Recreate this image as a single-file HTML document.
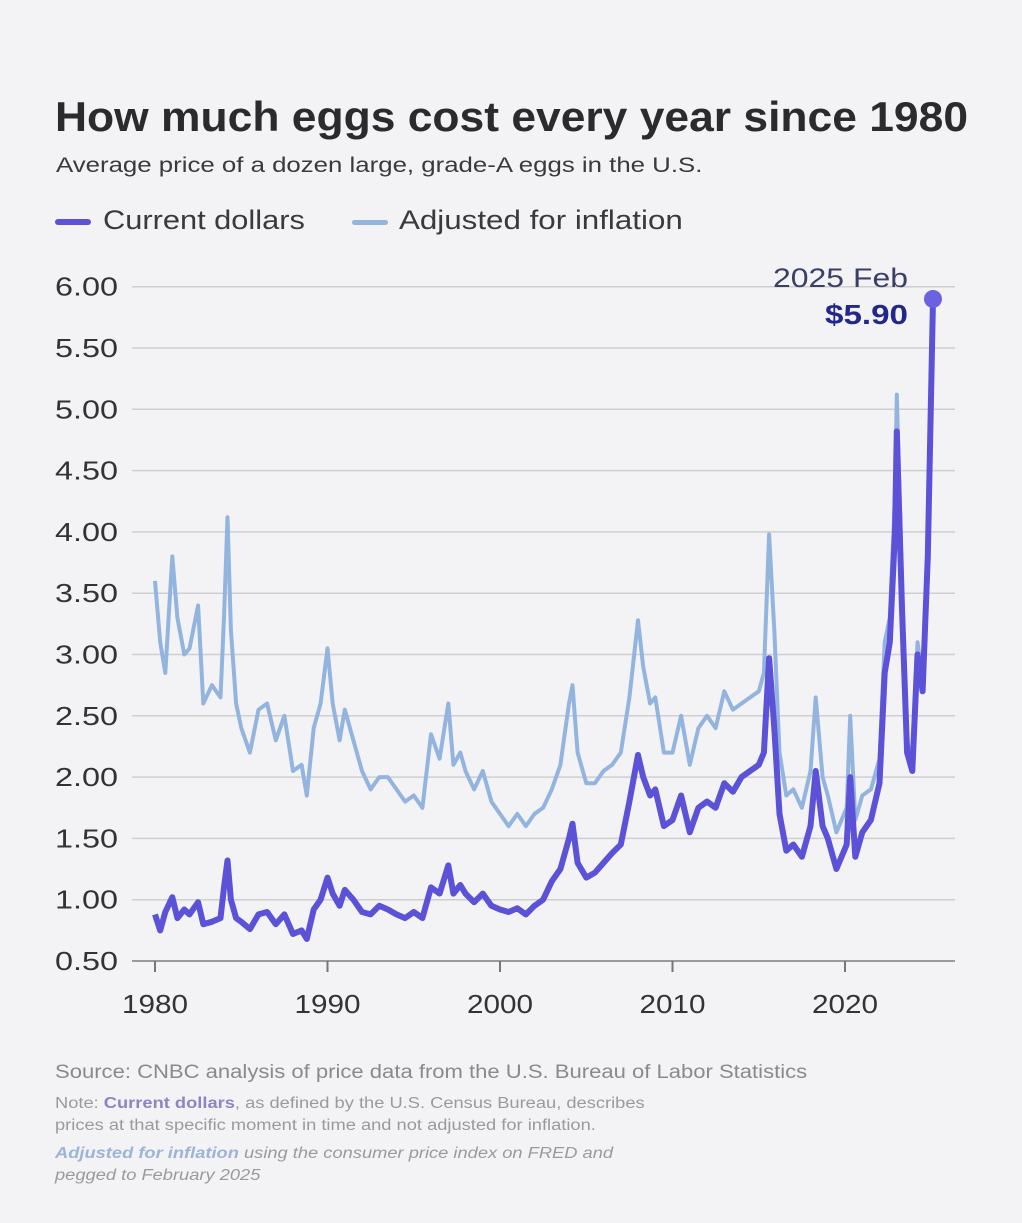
<!DOCTYPE html>
<html><head><meta charset="utf-8"><style>
body{margin:0;background:#f3f3f5;font-family:"Liberation Sans",sans-serif;}
#wrap{position:relative;width:1022px;height:1223px;overflow:hidden;background:#f3f3f5;}
.t{position:absolute;white-space:nowrap;color:#333;transform-origin:0 0;}
</style></head><body>
<div id="wrap">
<div class="t" style="left:55px;top:93px;font-size:42px;font-weight:bold;color:#2b2b2e;transform:scaleX(1.057)">How much eggs cost every year since 1980</div>
<div class="t" style="left:56px;top:153px;font-size:21.5px;color:#3a3a3d;transform:scaleX(1.2)">Average price of a dozen large, grade-A eggs in the U.S.</div>
<div style="position:absolute;left:55px;top:219px;width:36px;height:6px;border-radius:3px;background:#5b52d8"></div>
<div class="t" style="left:103px;top:205px;font-size:27px;color:#3a3a3d;transform:scaleX(1.14)">Current dollars</div>
<div style="position:absolute;left:352px;top:220px;width:36px;height:5px;border-radius:3px;background:#93b4df"></div>
<div class="t" style="left:399px;top:205px;font-size:27px;color:#3a3a3d;transform:scaleX(1.16)">Adjusted for inflation</div>
<svg id="chart" width="1022" height="1223" style="position:absolute;left:0;top:0"></svg>
<div class="t" style="left:55px;top:1062px;font-size:19px;color:#8a8a8e;transform:scaleX(1.16)">Source: CNBC analysis of price data from the U.S. Bureau of Labor Statistics</div>
<div class="t" style="left:55px;top:1093px;font-size:15.5px;color:#9a9a9e;line-height:22px;transform:scaleX(1.18)">Note: <span style="color:#8b85c8;font-weight:bold">Current dollars</span>, as defined by the U.S. Census Bureau, describes<br>prices at that specific moment in time and not adjusted for inflation.</div>
<div class="t" style="left:55px;top:1143px;font-size:15.5px;color:#9a9a9e;font-style:italic;line-height:22px;transform:scaleX(1.18)"><span style="color:#9db4d8;font-weight:bold">Adjusted for inflation</span> using the consumer price index on FRED and<br>pegged to February 2025</div>
</div>
<script>
const yTicks=[0.5,1.0,1.5,2.0,2.5,3.0,3.5,4.0,4.5,5.0,5.5,6.0];
const xTicks=[1980,1990,2000,2010,2020];
const curX=[1980,1980.3,1980.6,1981,1981.3,1981.7,1982,1982.5,1982.8,1983.3,1983.8,1984,1984.2,1984.4,1984.7,1985,1985.5,1986,1986.5,1987,1987.5,1988,1988.5,1988.8,1989.2,1989.6,1990,1990.3,1990.7,1991,1991.5,1992,1992.5,1993,1993.5,1994,1994.5,1995,1995.5,1996,1996.5,1997,1997.3,1997.7,1998,1998.5,1999,1999.5,2000,2000.5,2001,2001.5,2002,2002.5,2003,2003.5,2004,2004.2,2004.5,2005,2005.5,2006,2006.5,2007,2007.5,2008,2008.3,2008.7,2009,2009.5,2010,2010.5,2011,2011.5,2012,2012.5,2013,2013.5,2014,2014.5,2015,2015.3,2015.6,2015.9,2016.2,2016.6,2017,2017.5,2018,2018.3,2018.7,2019,2019.5,2020.1,2020.3,2020.6,2021,2021.5,2022,2022.3,2022.6,2022.9,2023,2023.3,2023.6,2023.9,2024.2,2024.5,2024.8,2025.1];
const curV=[0.88,0.75,0.9,1.02,0.85,0.92,0.88,0.98,0.8,0.82,0.85,1.1,1.32,1.0,0.85,0.82,0.76,0.88,0.9,0.8,0.88,0.72,0.75,0.68,0.92,1.0,1.18,1.05,0.95,1.08,1.0,0.9,0.88,0.95,0.92,0.88,0.85,0.9,0.85,1.1,1.05,1.28,1.05,1.12,1.05,0.98,1.05,0.95,0.92,0.9,0.93,0.88,0.95,1.0,1.15,1.25,1.5,1.62,1.3,1.18,1.22,1.3,1.38,1.45,1.8,2.18,2.0,1.85,1.9,1.6,1.65,1.85,1.55,1.75,1.8,1.75,1.95,1.88,2.0,2.05,2.1,2.2,2.97,2.4,1.7,1.4,1.45,1.35,1.6,2.05,1.6,1.5,1.25,1.45,2.0,1.35,1.55,1.65,1.95,2.85,3.1,4.0,4.82,3.4,2.2,2.05,3.0,2.7,3.8,5.9];
const adjV=[3.6,3.1,2.85,3.8,3.3,3.0,3.05,3.4,2.6,2.75,2.65,3.3,4.12,3.2,2.6,2.4,2.2,2.55,2.6,2.3,2.5,2.05,2.1,1.85,2.4,2.6,3.05,2.6,2.3,2.55,2.3,2.05,1.9,2.0,2.0,1.9,1.8,1.85,1.75,2.35,2.15,2.6,2.1,2.2,2.05,1.9,2.05,1.8,1.7,1.6,1.7,1.6,1.7,1.75,1.9,2.1,2.6,2.75,2.2,1.95,1.95,2.05,2.1,2.2,2.65,3.28,2.9,2.6,2.65,2.2,2.2,2.5,2.1,2.4,2.5,2.4,2.7,2.55,2.6,2.65,2.7,2.85,3.98,3.2,2.2,1.85,1.9,1.75,2.05,2.65,2.0,1.85,1.55,1.75,2.5,1.65,1.85,1.9,2.15,3.1,3.3,4.3,5.12,3.6,2.3,2.1,3.1,2.8,3.85,5.9];
const NS='http://www.w3.org/2000/svg';
const svg=document.getElementById('chart');
const X=v=>155+(v-1980)*17.25;
const Y=v=>961-(v-0.5)*122.6;
function mk(t,a){const e=document.createElementNS(NS,t);for(const k in a)e.setAttribute(k,a[k]);svg.appendChild(e);return e;}
yTicks.forEach(v=>{
  const g=mk('line',{x1:132,x2:955,y1:Y(v),y2:Y(v),stroke:v===0.5?'#9a9a9a':'#cfcfd2','stroke-width':v===0.5?2:1.5});
  
  
  const t=mk('text',{x:55,y:Y(v)+9,'font-size':26,fill:'#333','font-family':'Liberation Sans, sans-serif',textLength:63,lengthAdjust:'spacingAndGlyphs'});
  t.textContent=v.toFixed(2);
  
  
});
xTicks.forEach(v=>{
  const l=mk('line',{x1:X(v),x2:X(v),y1:961,y2:972,stroke:'#777','stroke-width':2});
  
  
  const t=mk('text',{x:X(v)-33,y:1013,'font-size':26,fill:'#333','font-family':'Liberation Sans, sans-serif',textLength:66,lengthAdjust:'spacingAndGlyphs'});
  t.textContent=v;
  
  
});
function path(vals){return curX.map((x,i)=>(i?'L':'M')+X(x).toFixed(1)+' '+Y(vals[i]).toFixed(1)).join(' ');}
const a=mk('path',{d:path(adjV),fill:'none',stroke:'#93b4df','stroke-width':4,'stroke-linejoin':'round'});


const c=mk('path',{d:path(curV),fill:'none',stroke:'#5b52d8','stroke-width':6,'stroke-linejoin':'round'});


const n=curX.length-1;
const d=mk('circle',{cx:X(curX[n]),cy:Y(curV[n]),r:9,fill:'#6a62e0'});


const bg=mk('rect',{x:768,y:262,width:144,height:22,fill:'#f3f3f5'});


const t1=mk('text',{x:773,y:287,'font-size':27,fill:'#3a3f66','font-family':'Liberation Sans, sans-serif',textLength:135,lengthAdjust:'spacingAndGlyphs'});
t1.textContent='2025 Feb';


const t2=mk('text',{x:825,y:324,'font-size':28,'font-weight':'bold',fill:'#23278a','font-family':'Liberation Sans, sans-serif',textLength:83,lengthAdjust:'spacingAndGlyphs'});
t2.textContent='$5.90';


</script>
</body></html>
